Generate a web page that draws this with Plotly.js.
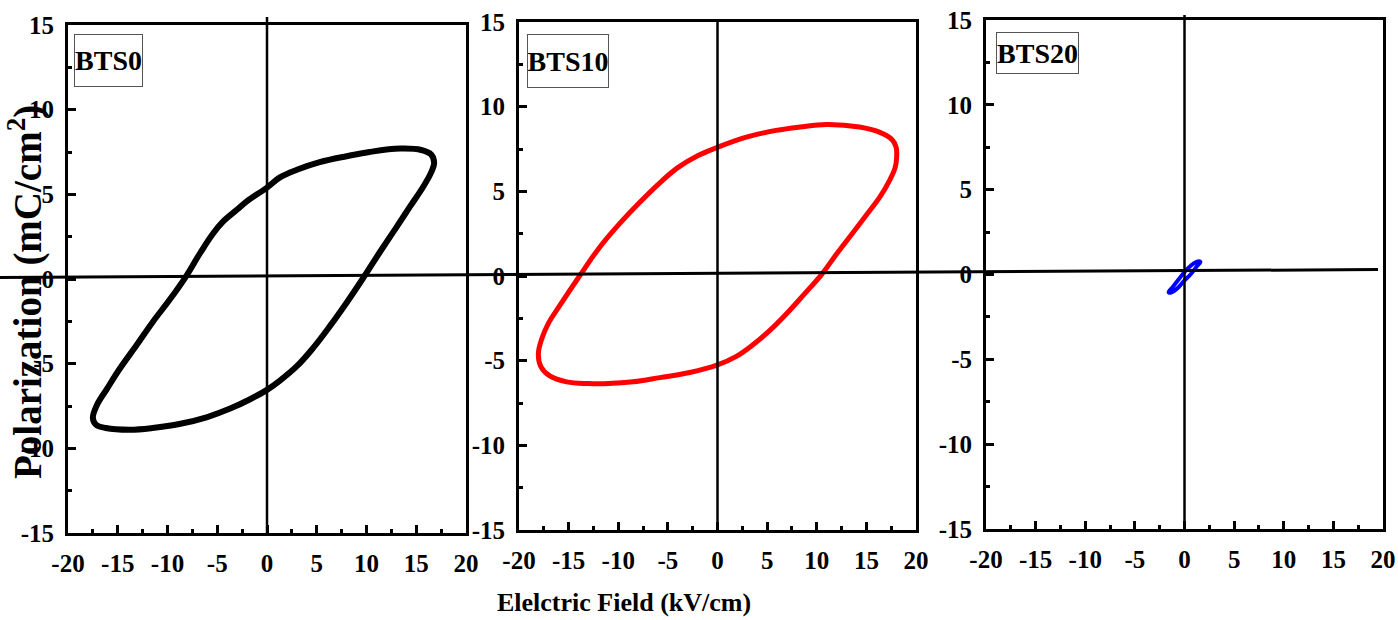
<!DOCTYPE html>
<html>
<head>
<meta charset="utf-8">
<script src="https://cdn.plot.ly/plotly-3.0.1.min.js"></script>
<style>
  html, body { margin: 0; padding: 0; background: #ffffff; }
  #chart { width: 1398px; height: 620px; }
</style>
</head>
<body>
<div id="chart"></div>
<script>
// P–E hysteresis loops, electric field (kV/cm) vs polarization
const fieldBTS0 = [16.8, 16.5, 15.5, 13.4, 10.3, 8.0, 5.3, 3.0, 1.3, 0, -2.0, -3.0, -4.4, -5.4, -6.7, -8.2, -9.75, -11.5, -13.1, -14.8, -16.1, -17.1, -17.5, -17.2, -16.2, -13.8, -11.5, -8.7, -6.0, -3.7, -1.7, 0, 1.3, 3.0, 4.6, 6.3, 8.0, 9.6, 11.3, 13.0, 14.4, 15.7, 16.5, 16.8];
const polBTS0   = [6.85, 7.35, 7.62, 7.7, 7.5, 7.25, 6.9, 6.45, 6.0, 5.4, 4.6, 4.1, 3.4, 2.7, 1.55, 0.1, -1.2, -2.55, -3.9, -5.3, -6.5, -7.45, -8.2, -8.6, -8.8, -8.9, -8.8, -8.55, -8.15, -7.65, -7.1, -6.55, -6.0, -5.15, -4.1, -2.8, -1.4, 0, 1.55, 3.05, 4.3, 5.45, 6.3, 6.85];

const fieldBTS10 = [18.05, 18.0, 17.6, 16.3, 14.3, 11.0, 8.3, 5.9, 2.9, 0, -2.0, -4.0, -6.0, -8.0, -10.0, -12.0, -13.9, -15.9, -17.0, -17.7, -18.05, -17.8, -16.9, -15.2, -13.0, -11.0, -8.5, -5.8, -2.8, 0, 1.9, 3.6, 5.3, 7.0, 8.7, 10.5, 12.0, 13.7, 15.0, 16.4, 17.3, 17.9, 18.05];
const polBTS10   = [7.0, 7.6, 8.05, 8.5, 8.8, 8.95, 8.8, 8.6, 8.2, 7.6, 7.1, 6.4, 5.4, 4.25, 3.0, 1.6, 0, -1.75, -2.75, -3.7, -4.6, -5.35, -5.9, -6.25, -6.35, -6.35, -6.25, -6.0, -5.7, -5.25, -4.75, -4.05, -3.2, -2.2, -1.1, 0.1, 1.3, 2.6, 3.6, 4.7, 5.6, 6.4, 7.0];

const fieldBTS20 = [1.6, 1.2, 0.6, 0, -0.6, -1.2, -1.6, -1.3, -0.6, 0, 0.6, 1.2, 1.6];
const polBTS20   = [0.75, 0.75, 0.5, 0.15, -0.3, -0.75, -1.05, -1.05, -0.75, -0.35, 0.0, 0.45, 0.75];

const sampleNames = ["BTS0", "BTS10", "BTS20"];
const loopColors = ["#000000", "#ff0000", "#0000ff"];
const tickValues = [-20, -15, -10, -5, 0, 5, 10, 15, 20];
const yTickValues = [-15, -10, -5, 0, 5, 10, 15];

const W = 1398, H = 620;
const serif = "Liberation Serif, Times New Roman, serif";

// panel boxes in pixels: [left, right, top, bottom]
const panels = [
  [68, 466, 25, 533],
  [519, 916, 22, 530],
  [986, 1383, 20, 529]
];

function px(x) { return x / W; }
function py(y) { return 1 - y / H; }

const traces = [
  { x: fieldBTS0, y: polBTS0, xaxis: "x", yaxis: "y" },
  { x: fieldBTS10, y: polBTS10, xaxis: "x2", yaxis: "y2" },
  { x: fieldBTS20, y: polBTS20, xaxis: "x3", yaxis: "y3" }
].map((t, i) => Object.assign(t, {
  type: "scatter",
  mode: "lines",
  name: sampleNames[i],
  line: { color: loopColors[i], width: i === 2 ? 4 : (i === 0 ? 6 : 5), shape: "spline", smoothing: 1.1 },
  hoverinfo: "skip"
}));

function xAxis(i) {
  const p = panels[i];
  return {
    domain: [px(p[0]), px(p[1])],
    anchor: i === 0 ? "y" : "y" + (i + 1),
    range: [-20, 20],
    tickvals: tickValues,
    ticktext: tickValues.map(String),
    ticks: "inside", ticklen: 8, tickwidth: 3, tickcolor: "#000",
    minor: { dtick: 2.5, ticks: "inside", ticklen: 4, tickwidth: 3, tickcolor: "#000" },
    showline: true, linewidth: 3, linecolor: "#000", mirror: true,
    showgrid: false, zeroline: false,
    tickfont: { family: serif, size: 25, color: "#000", weight: "bold" },
    ticklabelstandoff: 6,
    fixedrange: true
  };
}
function yAxis(i) {
  const p = panels[i];
  return {
    domain: [py(p[3]), py(p[2])],
    anchor: i === 0 ? "x" : "x" + (i + 1),
    range: [-15, 15],
    tickvals: yTickValues,
    ticktext: yTickValues.map(String),
    ticks: "inside", ticklen: 8, tickwidth: 3, tickcolor: "#000",
    minor: { dtick: 2.5, ticks: "inside", ticklen: 4, tickwidth: 3, tickcolor: "#000" },
    showline: true, linewidth: 3, linecolor: "#000", mirror: true,
    showgrid: false, zeroline: false,
    tickfont: { family: serif, size: 25, color: "#000", weight: "bold" },
    ticklabelstandoff: 6,
    fixedrange: true
  };
}

// vertical zero-field lines, and one long horizontal baseline across all panels
const vTop = [17, 22, 15];
const shapes = panels.map((p, i) => ({
  type: "line", xref: i === 0 ? "x" : "x" + (i + 1), yref: "paper",
  x0: 0, x1: 0, y0: py(p[3]), y1: py(vTop[i]),
  line: { color: "#000", width: 2.5 }
}));
shapes.push({
  type: "line", xref: "paper", yref: "paper",
  x0: 0, y0: py(277.5), x1: px(1378), y1: py(269.5),
  line: { color: "#000", width: 3 }
});

// sample label boxes: [left, top, width, height]
const boxes = [[74, 34, 67, 51], [527, 34, 80, 52], [996, 32, 81, 40]];
const annotations = boxes.map((b, i) => ({
  xref: "paper", yref: "paper",
  x: px(b[0]), y: py(b[1]), xanchor: "left", yanchor: "top",
  width: b[2], height: b[3], borderpad: 0,
  text: "<b>" + sampleNames[i] + "</b>",
  showarrow: false, align: "center", valign: "middle",
  bordercolor: "#555", borderwidth: 1, bgcolor: "rgba(255,255,255,0)",
  font: { family: serif, size: 28, color: "#000" }
}));
annotations.push({
  xref: "paper", yref: "paper", x: px(624), y: py(602),
  xanchor: "center", yanchor: "middle", showarrow: false,
  text: "<b>Elelctric Field (kV/cm)</b>",
  font: { family: serif, size: 26, color: "#000" }
});
annotations.push({
  xref: "paper", yref: "paper", x: px(25), y: py(292),
  xanchor: "center", yanchor: "middle", showarrow: false, textangle: -90,
  text: "<b>Polarization (mC/cm<sup>2</sup>)</b>",
  font: { family: serif, size: 39, color: "#000" }
});

const layout = {
  width: W, height: H,
  margin: { l: 0, r: 0, t: 0, b: 0 },
  paper_bgcolor: "#ffffff", plot_bgcolor: "rgba(0,0,0,0)",
  showlegend: false,
  xaxis: xAxis(0), yaxis: yAxis(0),
  xaxis2: xAxis(1), yaxis2: yAxis(1),
  xaxis3: xAxis(2), yaxis3: yAxis(2),
  shapes: shapes,
  annotations: annotations
};

Plotly.newPlot("chart", traces, layout, { staticPlot: true, displayModeBar: false });
</script>
</body>
</html>
